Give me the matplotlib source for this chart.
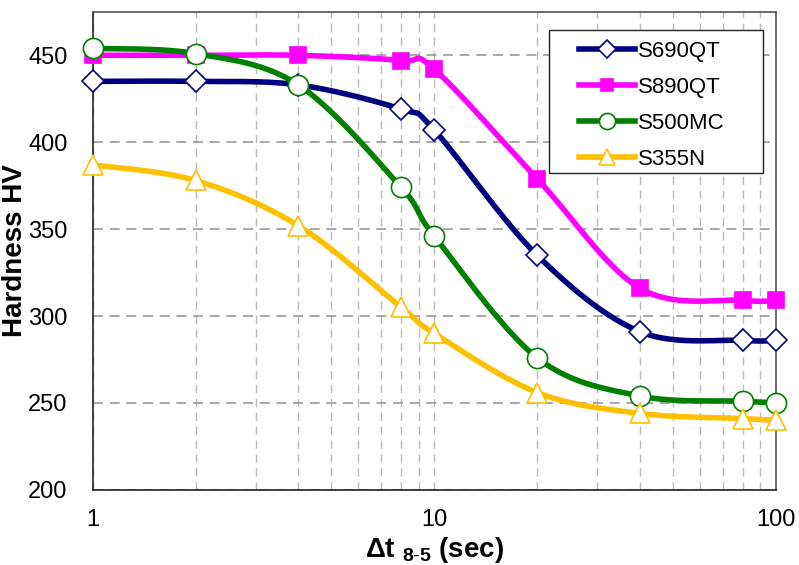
import numpy as np
import matplotlib
matplotlib.use('Agg')
from matplotlib import pyplot as plt
from matplotlib.patches import Rectangle

plt.rcParams['font.family'] = ['Liberation Sans', 'DejaVu Sans']
plt.rcParams['mathtext.fontset'] = 'custom'
plt.rcParams['mathtext.rm'] = 'Liberation Sans'
plt.rcParams['mathtext.bf'] = 'Liberation Sans:bold'

# cooling time t8/5 (sec)
t85 = [1, 2, 4, 8, 10, 20, 40, 80, 100]

s690qt = [435, 435, 433, 419, 407, 335, 291, 286, 286]
s890qt = [450, 450, 450, 447, 442, 379, 316, 309, 309]
s500mc = [454, 451, 433, 374, 346, 276, 254, 251, 250]
s355n = [387, 378, 352, 305, 290, 256, 244, 241, 240]

names = ['S690QT', 'S890QT', 'S500MC', 'S355N']


def smooth(x, y, n=30):
    # Excel-like smoothed line (Catmull-Rom bezier) in log-x space
    lx = np.log10(np.asarray(x, float))
    y = np.asarray(y, float)
    P = np.column_stack([lx, y])
    out = []
    for i in range(len(P) - 1):
        p0 = P[i - 1] if i > 0 else P[i]
        p1 = P[i]
        p2 = P[i + 1]
        p3 = P[i + 2] if i + 2 < len(P) else P[i + 1]
        c1 = p1 + (p2 - p0) / 6.0
        c2 = p2 - (p3 - p1) / 6.0
        s = np.linspace(0, 1, n)[:, None]
        seg = ((1 - s) ** 3) * p1 + 3 * ((1 - s) ** 2) * s * c1 + 3 * (1 - s) * s ** 2 * c2 + s ** 3 * p2
        out.append(seg if i == 0 else seg[1:])
    out = np.vstack(out)
    return 10 ** out[:, 0], out[:, 1]


fig = plt.figure(figsize=(7.99, 5.65), dpi=100)
ax = fig.add_axes([0.116, 0.133, 0.855, 0.846])

styles = [
    dict(color='#000080', marker='D', ms=11, mfc='white', mew=1.2),
    dict(color='#FF00FF', marker='s', ms=11.5, mfc='#FF00FF', mew=1.2),
    dict(color='#008000', marker='o', ms=14.5, mfc='white', mew=1.2),
    dict(color='#FFC000', marker='^', ms=15, mfc='white', mew=1.2),
]

for name, vals, st in zip(names, [s690qt, s890qt, s500mc, s355n], styles):
    sx, sy = smooth(t85, vals)
    ax.plot(sx, sy, color=st['color'], lw=4, solid_capstyle='round', zorder=3)
    ax.plot(t85, vals, ls='none', marker=st['marker'], ms=st['ms'],
            mfc=st['mfc'], mec=st['color'], mew=st['mew'], zorder=4, clip_on=False)
    # legend proxy
    ax.plot([], [], color=st['color'], lw=4, marker=st['marker'], ms=st['ms'] * 0.8,
            mfc=st['mfc'], mec=st['color'], mew=st['mew'], label=name)

ax.set_xscale('log')
ax.set_xlim(1, 100)
ax.set_ylim(200, 475)
ax.set_yticks([200, 250, 300, 350, 400, 450])
ax.set_xticks([1, 10, 100])
ax.set_xticklabels(['1', '10', '100'])
ax.tick_params(axis='both', labelsize=17, length=0)
ax.tick_params(axis='y', pad=18)
ax.tick_params(axis='x', pad=14)
ax.tick_params(axis='x', which='minor', length=0)

ax.grid(True, which='major', axis='y', color='#999999', ls=(0, (6, 4)), lw=1.2)
ax.grid(True, which='both', axis='x', color='#bbbbbb', ls=(0, (6, 4)), lw=1.0)
ax.set_axisbelow(True)

for sp in ax.spines.values():
    sp.set_color('#555555')
    sp.set_linewidth(1.2)
ax.spines['left'].set_color('#222222')
ax.spines['bottom'].set_color('#222222')

ax.set_ylabel('Hardness HV', fontsize=20, fontweight='bold')
ax.yaxis.set_label_coords(-0.095, 0.5)
ax.set_xlabel(r'Δt $\mathbf{_{8\text{-}5}}$ (sec)', fontsize=20, fontweight='bold')
ax.xaxis.set_label_coords(0.5, -0.095)

# legend box drawn separately so the entries sit with a wide left margin like the original
ax.add_patch(Rectangle((0.668, 0.663), 0.313, 0.299, transform=ax.transAxes,
                       facecolor='white', edgecolor='#222222', lw=1.0, zorder=5))
leg = ax.legend(loc='upper left', bbox_to_anchor=(0.712, 0.94), fontsize=16, handlelength=2.5,
                frameon=False, borderpad=0, labelspacing=0.68, handletextpad=0.15,
                borderaxespad=0)
leg.set_zorder(6)

fig.savefig('out.png', dpi=100)
